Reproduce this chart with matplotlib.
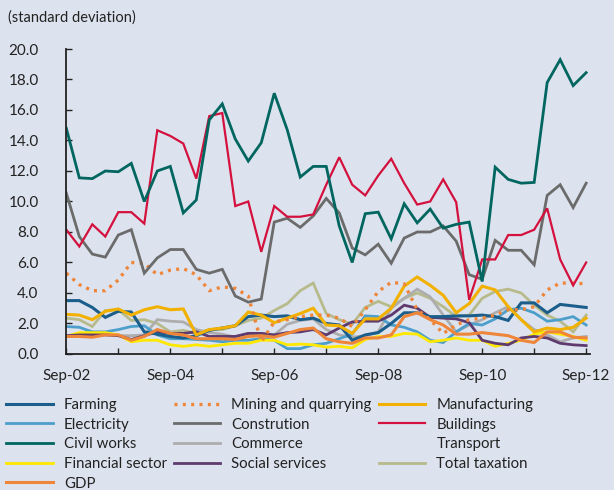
import matplotlib
matplotlib.use("Agg")
import matplotlib.pyplot as plt
from matplotlib.lines import Line2D
import numpy as np

plt.rcParams['font.family'] = ['Lato', 'DejaVu Sans']

# quarterly observations Sep-02 .. Sep-12
n_obs = 41
tick_labels = ["Sep-02", "Sep-04", "Sep-06", "Sep-08", "Sep-10", "Sep-12"]

farming = [3.5, 3.5, 3.05, 2.4, 2.8, 2.75, 1.45, 1.3, 1.15, 1.05, 1.2, 1.55, 1.7, 1.85, 2.45, 2.55, 2.45, 2.5, 2.25, 2.35, 2.0,
           1.9, 0.9, 1.25, 1.4, 2.0, 2.7, 2.7, 2.45, 2.45, 2.5, 2.5, 2.55, 2.45, 2.2, 3.35, 3.35, 2.7, 3.25, 3.15, 3.05]
electricity = [1.8, 1.75, 1.45, 1.45, 1.6, 1.8, 1.85, 1.25, 1.0, 1.0, 0.95, 0.9, 0.8, 0.9, 0.9, 1.0, 0.9, 0.35, 0.35, 0.6, 0.7,
               1.0, 1.3, 2.5, 2.45, 1.9, 1.75, 1.45, 0.9, 0.75, 1.45, 2.0, 1.9, 2.3, 2.9, 3.0, 2.7, 2.15, 2.25, 2.45, 1.9]
civil_works = [14.8, 11.55, 11.5, 12.0, 11.95, 12.5, 10.0, 12.0, 12.3, 9.25, 10.1, 15.35, 16.4, 14.1, 12.65, 13.85, 17.1, 14.7, 11.6, 12.3, 12.3,
               8.4, 6.0, 9.2, 9.3, 7.55, 9.85, 8.6, 9.5, 8.25, 8.5, 8.65, 4.75, 12.25, 11.45, 11.2, 11.25, 17.8, 19.3, 17.6, 18.45]
financial = [1.15, 1.4, 1.4, 1.4, 1.25, 0.8, 0.9, 0.9, 0.6, 0.5, 0.6, 0.5, 0.6, 0.7, 0.7, 0.9, 0.9, 0.6, 0.65, 0.6, 0.45,
             0.5, 0.4, 0.95, 1.15, 1.15, 1.35, 1.3, 0.8, 0.9, 1.05, 0.9, 0.9, 0.5, 0.7, 0.9, 1.3, 1.45, 1.3, 1.15, 0.9]
gdp = [1.15, 1.15, 1.1, 1.25, 1.25, 0.9, 1.15, 1.6, 1.35, 1.25, 1.0, 1.0, 1.0, 0.95, 1.15, 1.2, 1.1, 1.35, 1.6, 1.7, 1.0,
       0.8, 0.7, 1.05, 1.05, 1.25, 2.45, 2.7, 2.25, 1.9, 1.3, 1.3, 1.4, 1.3, 1.2, 0.9, 0.75, 1.45, 1.45, 1.1, 1.05]
mining = [5.3, 4.55, 4.15, 4.15, 4.85, 6.0, 5.95, 5.2, 5.5, 5.6, 5.2, 4.15, 4.4, 4.3, 3.8, 0.8, 2.1, 2.25, 2.45, 2.55, 2.55,
          2.35, 1.8, 2.9, 4.1, 4.7, 4.6, 2.9, 2.25, 1.35, 1.9, 2.25, 2.35, 2.55, 2.9, 2.9, 3.1, 4.2, 4.65, 4.65, 4.6]
construction = [10.55, 7.7, 6.55, 6.35, 7.8, 8.15, 5.3, 6.3, 6.85, 6.85, 5.55, 5.3, 5.55, 3.8, 3.4, 3.6, 8.65, 8.9, 8.3, 9.05, 10.2,
                9.25, 6.95, 6.5, 7.2, 5.95, 7.6, 8.0, 8.0, 8.4, 7.4, 5.2, 4.9, 7.45, 6.8, 6.8, 5.85, 10.4, 11.1, 9.6, 11.2]
commerce = [1.2, 1.2, 1.3, 1.3, 1.2, 1.2, 1.25, 2.25, 2.15, 2.1, 1.6, 1.4, 1.3, 1.1, 1.35, 1.35, 1.25, 1.95, 2.2, 2.3, 1.6,
            1.25, 1.1, 1.2, 1.45, 3.0, 3.65, 4.25, 3.75, 2.55, 1.45, 1.9, 2.25, 2.7, 3.1, 2.25, 1.6, 1.25, 0.8, 1.05, 1.15]
social = [1.2, 1.25, 1.25, 1.25, 1.2, 0.95, 1.2, 1.45, 1.35, 1.35, 1.45, 1.15, 1.15, 1.15, 1.35, 1.35, 1.25, 1.4, 1.45, 1.6, 1.25,
          1.7, 2.1, 2.15, 2.15, 2.55, 3.2, 3.0, 2.4, 2.35, 2.3, 2.05, 0.9, 0.7, 0.6, 1.05, 1.15, 1.05, 0.7, 0.6, 0.55]
manufacturing = [2.6, 2.55, 2.25, 2.8, 2.95, 2.55, 2.9, 3.1, 2.9, 2.95, 1.25, 1.6, 1.7, 1.85, 2.75, 2.55, 2.05, 2.35, 2.65, 3.0, 1.9,
                 1.85, 1.35, 2.3, 2.3, 3.0, 4.45, 5.05, 4.5, 3.85, 2.7, 3.3, 4.45, 4.2, 3.1, 2.25, 1.45, 1.7, 1.6, 1.75, 2.35]
buildings = [8.15, 7.05, 8.5, 7.7, 9.3, 9.3, 8.55, 14.67, 14.3, 13.8, 11.5, 15.6, 15.8, 9.7, 10.0, 6.7, 9.7, 9.0, 9.0, 9.15, 11.1,
             12.9, 11.1, 10.4, 11.7, 12.8, 11.2, 9.8, 10.0, 11.45, 9.95, 3.55, 6.2, 6.2, 7.8, 7.8, 8.15, 9.55, 6.2, 4.5, 6.0]
total_tax = [2.35, 2.25, 1.8, 2.85, 2.9, 2.2, 2.25, 2.0, 1.45, 1.55, 1.35, 1.6, 1.6, 1.85, 2.2, 2.35, 2.85, 3.3, 4.15, 4.65, 2.65,
             2.25, 1.95, 3.05, 3.45, 3.1, 3.65, 4.0, 3.65, 3.1, 2.45, 2.55, 3.65, 4.1, 4.25, 4.0, 3.2, 2.55, 2.15, 1.45, 2.55]

bg = "#dde3ee"
fig = plt.figure(figsize=(6.14, 4.9), dpi=100, facecolor=bg)
ax = fig.add_axes([0.108, 0.2776, 0.853, 0.6224])
ax.set_facecolor(bg)

t = np.arange(n_obs)
series = [
    ("Total taxation", total_tax, dict(color="#b7ba8a", lw=2.0)),
    ("Commerce", commerce, dict(color="#adadad", lw=2.0)),
    ("Electricity", electricity, dict(color="#4d9fcb", lw=2.0)),
    ("Financial sector", financial, dict(color="#ffe800", lw=2.0)),
    ("Social services", social, dict(color="#5e3a6e", lw=2.0)),
    ("Farming", farming, dict(color="#1b5e8c", lw=2.2)),
    ("Manufacturing", manufacturing, dict(color="#f2b100", lw=2.2)),
    ("GDP", gdp, dict(color="#ee8538", lw=2.2)),
    ("Mining and quarrying", mining, dict(color="#ee8538", lw=2.4, ls=(0, (0.9, 1.6)))),
    ("Constrution", construction, dict(color="#6b6b6b", lw=2.0)),
    ("Buildings", buildings, dict(color="#d4113e", lw=1.6)),
    ("Civil works", civil_works, dict(color="#00665f", lw=2.0)),
]
handles = {}
for name, vals, st in series:
    ln, = ax.plot(t, vals, label=name, solid_joinstyle='miter', **st)
    handles[name] = ln

ax.set_xlim(0, 40.3)
ax.set_ylim(0, 20)
yt = np.arange(0, 20.1, 2.0)
ax.set_yticks(yt)
ax.set_yticklabels([f"{v:.1f}" for v in yt])
ax.set_xticks(np.arange(0, 41, 8))
ax.set_xticklabels(tick_labels)
ax.set_xticks(np.arange(0, 41, 4), minor=True)
for s in ["top", "right"]:
    ax.spines[s].set_visible(False)
for s in ["left", "bottom"]:
    ax.spines[s].set_color("#222222")
    ax.spines[s].set_linewidth(1.3)
ax.tick_params(axis='both', which='both', direction='in', length=4, width=1.0, colors="#222222",
               labelsize=11, labelcolor="#222222")
ax.tick_params(axis='x', which='major', pad=11)
ax.tick_params(axis='y', which='major', pad=20)

fig.text(0.013, 0.965, "(standard deviation)", fontsize=10.5, color="#222222", va="center", ha="left")

transport = Line2D([], [], color="none", lw=0)
order = ["Farming", "Electricity", "Civil works", "Financial sector", "GDP",
         "Mining and quarrying", "Constrution", "Commerce", "Social services",
         "Manufacturing", "Buildings", "Transport", "Total taxation"]
hl = [transport if n == "Transport" else handles[n] for n in order]
fig.legend(hl, order, loc="upper left", bbox_to_anchor=(0.01, 0.188), ncol=3, frameon=False,
           fontsize=10.8, handlelength=3.1, handletextpad=0.75, columnspacing=0.45,
           labelspacing=0.38, borderpad=0, borderaxespad=0, labelcolor="#222222")

fig.savefig("out.png", dpi=100, facecolor=bg)
